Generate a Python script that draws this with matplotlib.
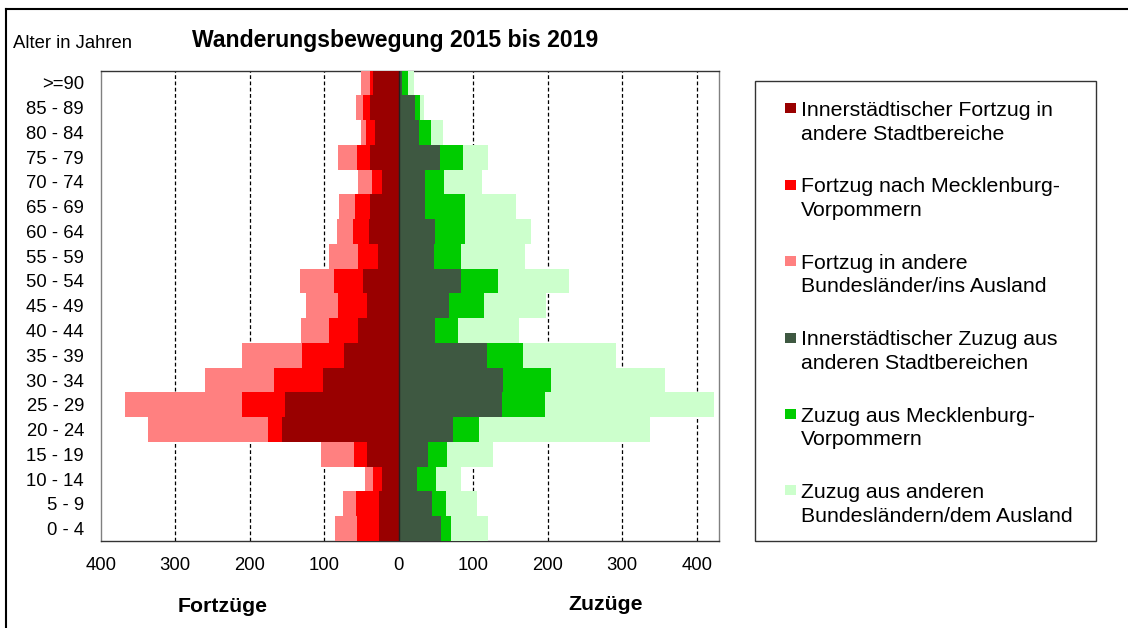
import matplotlib
matplotlib.use("Agg")
import matplotlib.pyplot as plt
import numpy as np
from matplotlib.lines import Line2D
from matplotlib.patches import Rectangle

plt.rcParams['font.family'] = ['Liberation Sans', 'DejaVu Sans']

# Age groups, bottom to top
ages = ["0 - 4", "5 - 9", "10 - 14", "15 - 19", "20 - 24", "25 - 29", "30 - 34",
        "35 - 39", "40 - 44", "45 - 49", "50 - 54", "55 - 59", "60 - 64",
        "65 - 69", "70 - 74", "75 - 79", "80 - 84", "85 - 89", ">=90"]

# Fortzüge (outflows)
fort_inner = [27, 27, 22, 43, 156, 153, 101, 74, 55, 43, 48, 28, 40, 39, 22, 39, 32, 38, 34]
fort_mv    = [29, 30, 12, 17, 20, 57, 67, 56, 39, 39, 39, 27, 21, 19, 14, 17, 12, 10, 5]
fort_other = [29, 18, 11, 44, 161, 158, 92, 80, 37, 43, 45, 38, 22, 22, 19, 26, 7, 9, 12]

# Zuzüge (inflows)
zu_inner = [57, 45, 24, 39, 73, 139, 140, 118, 49, 67, 84, 47, 49, 36, 36, 56, 27, 22, 5]
zu_mv    = [13, 19, 26, 26, 35, 58, 65, 49, 30, 47, 49, 36, 40, 53, 25, 30, 16, 6, 7]
zu_other = [50, 41, 33, 61, 230, 226, 153, 125, 82, 84, 95, 87, 89, 69, 51, 34, 16, 6, 8]

xticks = [-400, -300, -200, -100, 0, 100, 200, 300, 400]
xticklabels = ["400", "300", "200", "100", "0", "100", "200", "300", "400"]

legend_labels = [
    "Innerstädtischer Fortzug in\nandere Stadtbereiche",
    "Fortzug nach Mecklenburg-\nVorpommern",
    "Fortzug in andere\nBundesländer/ins Ausland",
    "Innerstädtischer Zuzug aus\nanderen Stadtbereichen",
    "Zuzug aus Mecklenburg-\nVorpommern",
    "Zuzug aus anderen\nBundesländern/dem Ausland",
]
colors = ['#990000', '#FF0000', '#FF8080', '#3E5841', '#00CC00', '#CCFFCC']

W, H = 1128, 628
fig = plt.figure(figsize=(W / 100, H / 100), dpi=100)

def fx(px):
    return px / W

def fy(py):
    return 1 - py / H

ax = fig.add_axes([fx(100.7), fy(541), fx(719) - fx(100.7), fy(70.5) - fy(541)])

y = np.arange(len(ages))
fi = np.array(fort_inner, float)
fm = np.array(fort_mv, float)
fo = np.array(fort_other, float)
zi = np.array(zu_inner, float)
zm = np.array(zu_mv, float)
zo = np.array(zu_other, float)

kw = dict(height=1.0, linewidth=0, zorder=3)
ax.barh(y, -fi, color=colors[0], **kw)
ax.barh(y, -fm, left=-fi, color=colors[1], **kw)
ax.barh(y, -fo, left=-(fi + fm), color=colors[2], **kw)
ax.barh(y, zi, color=colors[3], **kw)
ax.barh(y, zm, left=zi, color=colors[4], **kw)
ax.barh(y, zo, left=zi + zm, color=colors[5], **kw)

ax.axvline(0, color='#222222', lw=1.0, zorder=4)
for g in [-300, -200, -100, 100, 200, 300, 400]:
    ax.axvline(g, color='black', lw=0.9, linestyle=(0, (3, 2)), zorder=1)

ax.set_xlim(-400, 430)
ax.set_ylim(-0.5, len(ages) - 0.5)
ax.set_yticks(y)
ax.set_yticklabels(ages)
ax.set_xticks(xticks)
ax.set_xticklabels(xticklabels)
ax.tick_params(axis='both', length=0, labelsize=13.3)
ax.tick_params(axis='y', pad=12)
ax.tick_params(axis='x', pad=11.5)
for s in ax.spines.values():
    s.set_color('#333333')
    s.set_linewidth(1.0)
ax.spines['right'].set_color('#808080')
ax.spines['left'].set_color('#808080')

# Texts
fig.text(fx(13), fy(43), "Alter in Jahren", fontsize=13.3, ha='left', va='center')
fig.text(fx(395), fy(41), "Wanderungsbewegung 2015 bis 2019", fontsize=16.6,
         fontweight='bold', ha='center', va='center')
fig.text(fx(223), fy(606), "Fortzüge", fontsize=15.3, fontweight='bold', ha='center', va='center')
fig.text(fx(606), fy(605), "Zuzüge", fontsize=15.3, fontweight='bold', ha='center', va='center')

# Legend box
fig.add_artist(Rectangle((fx(755), fy(541)), fx(1096) - fx(755), fy(81) - fy(541),
                         transform=fig.transFigure, facecolor='white',
                         edgecolor='#333333', lw=1.0))
for i, (lab, c) in enumerate(zip(legend_labels, colors)):
    cy = 108.3 + i * 76.4
    fig.add_artist(Rectangle((fx(785), fy(cy + 5)), fx(11), fy(0) - fy(10),
                             transform=fig.transFigure, facecolor=c, edgecolor='none'))
    for j, line in enumerate(lab.split("\n")):
        fig.text(fx(801), fy(cy + 7.6 + j * 23.6), line, fontsize=15.3,
                 ha='left', va='baseline')

# Outer frame lines
fig.add_artist(Line2D([fx(6), fx(6)], [fy(9), 0], transform=fig.transFigure,
                      color='black', lw=1.5))
fig.add_artist(Line2D([fx(6), 1], [fy(9), fy(9)], transform=fig.transFigure,
                      color='black', lw=1.5))

fig.savefig("out.png", dpi=100)
